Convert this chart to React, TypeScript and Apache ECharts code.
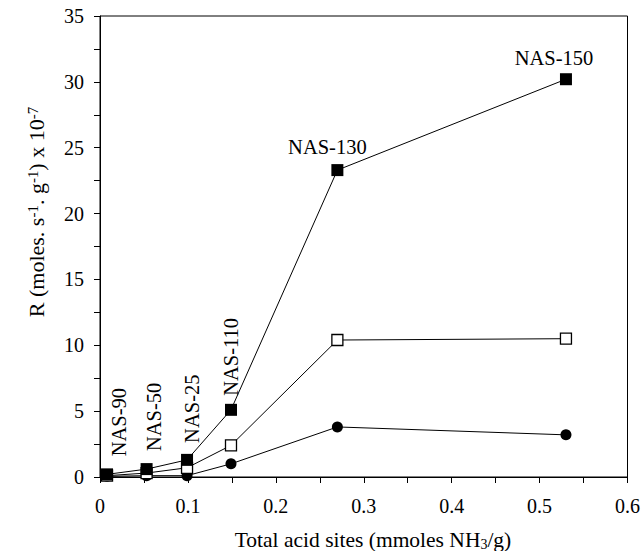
import React, { useEffect, useRef } from "react";
import * as echarts from "echarts";

const acidSites = [0.008, 0.053, 0.099, 0.149, 0.27, 0.53];
const filledSquares = [0.2, 0.6, 1.3, 5.1, 23.3, 30.2];
const openSquares = [0.1, 0.3, 0.7, 2.4, 10.4, 10.5];
const circles = [0.05, 0.1, 0.1, 1.0, 3.8, 3.2];
const sampleNames = ["NAS-90", "NAS-50", "NAS-25", "NAS-110", "NAS-130", "NAS-150"];
const rotatedLabel = [true, true, true, true, false, false];
const labelOffsets: [number, number][] = [
  [12, -18],
  [7, -18],
  [5, -17],
  [0, -14],
  [-10, -23],
  [-12, -21],
];

const FONT = "'Liberation Serif', 'Times New Roman', serif";

export default function App() {
  const ref = useRef<HTMLDivElement>(null);
  useEffect(() => {
    document.body.style.margin = "0";
    const chart = echarts.init(ref.current!, null, { renderer: "svg" });
    const pair = (ys: number[]) => acidSites.map((x, i) => [x, ys[i]]);
    chart.setOption({
      animation: false,
      backgroundColor: "#fff",
      grid: {
        left: 100,
        right: 15,
        top: 16,
        bottom: 74,
        show: true,
        borderColor: "#000",
        borderWidth: 1,
        backgroundColor: "transparent",
      },
      xAxis: {
        type: "value",
        min: 0,
        max: 0.6,
        interval: 0.1,
        axisLine: { show: true, lineStyle: { color: "#000", width: 1 } },
        axisTick: { show: true, inside: false, length: 6, lineStyle: { color: "#000" } },
        minorTick: { show: true, splitNumber: 2, length: 6, lineStyle: { color: "#000" } },
        splitLine: { show: false },
        axisLabel: { color: "#000", fontFamily: FONT, fontSize: 20, margin: 19 },
      },
      yAxis: {
        type: "value",
        min: 0,
        max: 35,
        interval: 5,
        axisLine: { show: true, lineStyle: { color: "#000", width: 1 } },
        axisTick: { show: true, inside: false, length: 6, lineStyle: { color: "#000" } },
        minorTick: { show: true, splitNumber: 2, length: 6, lineStyle: { color: "#000" } },
        splitLine: { show: false },
        axisLabel: { color: "#000", fontFamily: FONT, fontSize: 20, margin: 16 },
      },
      series: [
        {
          type: "line",
          data: pair(circles),
          symbol: "circle",
          symbolSize: 11,
          lineStyle: { color: "#000", width: 1 },
          itemStyle: { color: "#000" },
          z: 2,
        },
        {
          type: "line",
          data: pair(openSquares),
          symbol: "rect",
          symbolSize: 11,
          lineStyle: { color: "#000", width: 1 },
          itemStyle: { color: "#fff", borderColor: "#000", borderWidth: 1.3 },
          z: 3,
        },
        {
          type: "line",
          data: pair(filledSquares),
          symbol: "rect",
          symbolSize: 12,
          lineStyle: { color: "#000", width: 1 },
          itemStyle: { color: "#000" },
          z: 4,
        },
      ],
    });

    const texts: any[] = [];
    acidSites.forEach((x, i) => {
      const p = chart.convertToPixel({ seriesIndex: 2 }, [x, filledSquares[i]]) as number[];
      const [dx, dy] = labelOffsets[i];
      texts.push({
        type: "text",
        x: p[0] + dx,
        y: p[1] + dy,
        rotation: rotatedLabel[i] ? Math.PI / 2 : 0,
        style: {
          text: sampleNames[i],
          font: `20.5px ${FONT}`,
          fill: "#000",
          align: rotatedLabel[i] ? "left" : "center",
          verticalAlign: "middle",
        },
      });
    });
    texts.push({
      type: "text",
      x: 36,
      y: 212,
      rotation: Math.PI / 2,
      style: {
        text: "R (moles. s{sup|-1}. g{sup|-1}) x 10{sup|-7}",
        fontFamily: FONT,
        fontSize: 22,
        fill: "#000",
        align: "center",
        verticalAlign: "middle",
        rich: {
          sup: { fontFamily: FONT, fontSize: 15, verticalAlign: "top", fill: "#000" },
        },
      },
    });
    texts.push({
      type: "text",
      x: 373,
      y: 540,
      style: {
        text: "Total acid sites (mmoles NH{sub|3}/g)",
        fontFamily: FONT,
        fontSize: 21.5,
        fill: "#000",
        align: "center",
        verticalAlign: "middle",
        rich: {
          sub: { fontFamily: FONT, fontSize: 14, verticalAlign: "bottom", fill: "#000" },
        },
      },
    });
    chart.setOption({ graphic: texts });
    return () => chart.dispose();
  }, []);
  return (
    <div
      ref={ref}
      style={{ position: "fixed", left: 0, top: 0, width: 643, height: 551 }}
    />
  );
}
